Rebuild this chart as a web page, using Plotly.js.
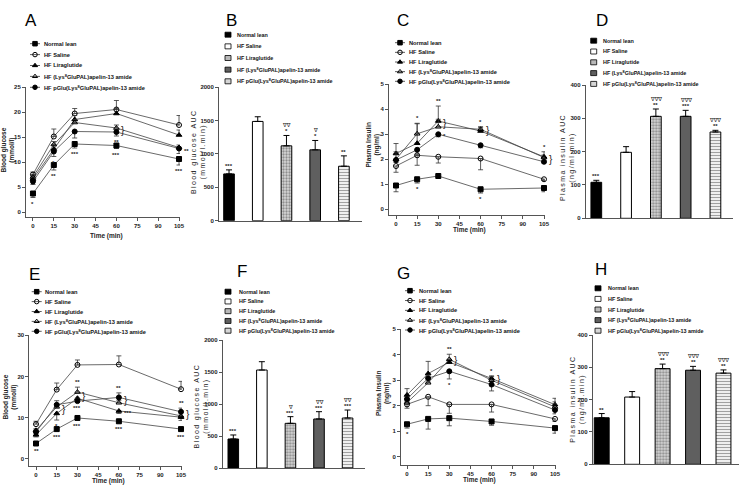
<!DOCTYPE html>
<html><head><meta charset="utf-8">
<script src="https://cdn.plot.ly/plotly-3.0.1.min.js"></script>
<style>html,body{margin:0;padding:0;background:#fff}</style>
</head><body><div id="chart" style="width:740px;height:485px"></div>
<script>
// ---------------- DATA ----------------
const TIMES = [0, 15, 30, 60, 105];
const TIME_TICKS = [0, 15, 30, 45, 60, 75, 90, 105];
const GROUPS = ['Normal lean', 'HF Saline', 'HF Liraglutide',
  'HF (Lys<sup>8</sup>GluPAL)apelin-13 amide', 'HF pGlu(Lys<sup>8</sup>GluPAL)apelin-13 amide'];

// A: blood glucose (mmol/l) after glucose challenge
const A_NL   = [3.7, 9.4, 13.6, 13.3, 10.6];
const A_SAL  = [7.5, 15.1, 19.7, 20.5, 17.4];
const A_LIRA = [6.6, 12.6, 18.5, 19.7, 15.4];
const A_LYS  = [7.0, 13.5, 17.9, 16.8, 12.9];
const A_PGLU = [6.1, 12.1, 16.1, 16.0, 12.7];
// error bars: positive = drawn upward, negative = drawn downward
const A_NL_ERR   = [-0.8, -1.0, -0.8, -0.6, -1.2];
const A_SAL_ERR  = [0.5, 1.5, 1.0, 1.8, 1.9];
const A_LIRA_ERR = [0.4, 0.8, 0.8, 1.0, 1.0];
const A_LYS_ERR  = [0.3, 0.6, 0.6, 0.6, 0.5];
const A_PGLU_ERR = [-0.6, -1.0, -1.3, -0.8, -1.0];
const A_SIG = [[0,0,'*','b'],[0,1,'**','b'],[0,2,'***','b'],[0,3,'***','b'],[0,4,'***','b'],
  [4,1,'*','b'],[4,3,'**','b'],[4,4,'**','r']];
const A_BRACE = [[3,4,3]];

// B: blood glucose AUC (mmol/l.min)
const B_AUC = [700, 1485, 1120, 1060, 815];
const B_ERR = [60, 70, 155, 140, 155];
const B_STAR = ['***', '', '*', '*', '**'];
const B_NABLA = ['', '', '∇∇', '∇', ''];

// C: plasma insulin (ng/ml)
const C_NL   = [0.95, 1.2, 1.33, 0.8, 0.85];
const C_SAL  = [1.73, 2.16, 2.1, 2.03, 1.2];
const C_LIRA = [2.23, 2.64, 3.53, 3.13, 2.1];
const C_LYS  = [2.0, 3.02, 3.3, 3.2, 2.07];
const C_PGLU = [1.97, 2.38, 3.0, 2.56, 1.9];
const C_NL_ERR   = [-0.25, -0.15, -0.05, -0.15, -0.15];
const C_SAL_ERR  = [-0.25, -0.4, -0.25, -0.45, -0.05];
const C_LIRA_ERR = [0.4, 0.8, 0.6, 0.15, 0.2];
const C_LYS_ERR  = [0.3, 0.4, 0.3, 0.1, 0.1];
const C_PGLU_ERR = [-0.1, -0.2, -0.1, -0.1, -0.05];
const C_SIG = [[0,1,'*','b'],[0,3,'*','b'],[2,1,'*','a'],[2,2,'**','a'],[2,3,'*','a'],[2,4,'*','a'],[4,2,'*','r']];
const C_BRACE = [[2,3,2],[3,2,3],[2,4,4]];

// D: plasma insulin AUC (ng/ml.min)
const D_AUC = [108, 198, 306, 306, 259];
const D_ERR = [6, 17, 22, 18, 5];
const D_STAR = ['***', '', '**', '***', '**'];
const D_NABLA = ['', '', '∇∇∇', '∇∇∇', '∇∇∇'];

// E: blood glucose (mmol/l)
const E_NL   = [3.7, 7.2, 9.9, 9.1, 7.2];
const E_SAL  = [8.4, 16.8, 22.8, 22.9, 16.9];
const E_LIRA = [5.8, 11.0, 14.7, 11.6, 10.1];
const E_LYS  = [6.9, 12.6, 16.2, 13.6, 10.4];
const E_PGLU = [6.5, 13.1, 14.0, 14.9, 11.4];
const E_NL_ERR   = [-0.4, -0.4, -0.4, -0.4, -0.4];
const E_SAL_ERR  = [0.7, 1.6, 1.2, 2.1, 1.9];
const E_LIRA_ERR = [-0.5, -1.6, -0.8, -0.6, -0.8];
const E_LYS_ERR  = [0.4, 0.8, 1.2, 0.6, 0.5];
const E_PGLU_ERR = [0.5, 1.0, 0.6, 1.1, 0.9];
const E_SIG = [[0,0,'**','b'],[0,1,'***','b'],[0,2,'***','b'],[0,3,'***','b'],[0,4,'***','b'],
  [2,1,'*','b'],[2,2,'***','b'],[2,3,'***','r'],[3,2,'**','a'],[4,3,'**','a'],[4,4,'**','a']];
const E_BRACE = [[4,2,1],[3,4,2],[4,3,3],[4,2,4]];

// F: blood glucose AUC (mmol/l.min)
const F_AUC = [453, 1531, 698, 766, 781];
const F_ERR = [63, 130, 104, 114, 125];
const F_STAR = ['***', '', '***', '***', '***'];
const F_NABLA = ['', '', '∇', '∇∇', '∇∇'];

// G: plasma insulin (ng/ml)
const G_NL   = [1.27, 1.48, 1.51, 1.38, 1.12];
const G_SAL  = [2.05, 2.35, 2.05, 2.05, 1.48];
const G_LIRA = [2.42, 3.26, 3.71, 3.07, 2.04];
const G_LYS  = [2.12, 2.9, 3.82, 3.0, 1.95];
const G_PGLU = [2.26, 3.08, 3.35, 2.83, 1.83];
const G_NL_ERR   = [-0.15, -0.4, -0.3, -0.15, -0.2];
const G_SAL_ERR  = [-0.15, -0.35, -0.35, -0.3, -0.1];
const G_LIRA_ERR = [0.25, 0.48, 0.1, 0.1, 0.25];
const G_LYS_ERR  = [0.1, 0.15, 0.2, 0.15, 0.2];
const G_PGLU_ERR = [-0.1, -0.15, -0.3, -0.25, -0.15];
const G_SIG = [[0,0,'*','b'],[3,2,'**','a'],[4,2,'*','b'],[2,3,'*','a']];
const G_BRACE = [[3,2,2],[2,3,3]];

// H: plasma insulin AUC (ng/ml.min)
const H_AUC = [144, 208, 296, 291, 282];
const H_ERR = [13, 17, 14, 12, 10];
const H_STAR = ['**', '', '**', '**', '**'];
const H_NABLA = ['', '', '∇∇∇', '∇∇∇', '∇∇∇'];

// ---------------- STYLE / LAYOUT ----------------
const W = 740, H = 485;
const FAM = '"Liberation Sans Narrow", "Liberation Sans", Arial, sans-serif';
const FAM_REG = '"Liberation Sans", Arial, sans-serif';
const FAM_SYM = '"DejaVu Sans", sans-serif';
const SYMBOLS = ['square', 'circle-open', 'triangle-up', 'triangle-up-open', 'circle'];
const BAR_COLORS = ['#000000', '#ffffff', '#d6d6d6', '#5f5f5f', '#ffffff'];
const BAR_PATTERN = ['', '', '.', '', '-'];
const BAR_FG = ['#000', '#000', '#808080', '#000', '#8c8c8c'];

const px2x = v => v / W;
const px2y = v => 1 - v / H;

const LINE_PANELS = [
  {n: 1, letter: 'A', lp: [23, 9], series: [A_NL, A_SAL, A_LIRA, A_LYS, A_PGLU],
   err: [A_NL_ERR, A_SAL_ERR, A_LIRA_ERR, A_LYS_ERR, A_PGLU_ERR], sig: A_SIG, brace: A_BRACE,
   xd: [26, 180], yd: [87, 217], xr: [-5, 105.7], yr: [-1, 25], dt: 5,
   ytitle: 'Blood glucose<br>(mmol/l)', yt: [7.5, 150], xt: [106, 236],
   leg: {kx: 35, tx: 41.7, y0: 43.7, dy: 10.9}},
  {n: 3, letter: 'C', lp: [395, 9], series: [C_NL, C_SAL, C_LIRA, C_LYS, C_PGLU],
   err: [C_NL_ERR, C_SAL_ERR, C_LIRA_ERR, C_LYS_ERR, C_PGLU_ERR], sig: C_SIG, brace: C_BRACE,
   xd: [389, 545], yd: [84.3, 215], xr: [-4.97, 105.7], yr: [-0.23, 5], dt: 1,
   ytitle: 'Plasma Insulin<br>(ng/ml)', yt: [372.5, 145], xt: [470, 230],
   leg: {kx: 400, tx: 406.7, y0: 42.7, dy: 9.65}},
  {n: 5, letter: 'E', lp: [26.7, 262.7], series: [E_NL, E_SAL, E_LIRA, E_LYS, E_PGLU],
   err: [E_NL_ERR, E_SAL_ERR, E_LIRA_ERR, E_LYS_ERR, E_PGLU_ERR], sig: E_SIG, brace: E_BRACE,
   xd: [29.3, 182], yd: [335.3, 465.7], xr: [-4.85, 105.7], yr: [-1.7, 30], dt: 10,
   ytitle: 'Blood glucose<br>(mmol/l)', yt: [9.5, 397], xt: [108, 480.5],
   leg: {kx: 36.7, tx: 43.3, y0: 291.7, dy: 9.9}},
  {n: 7, letter: 'G', lp: [394.5, 261.5], series: [G_NL, G_SAL, G_LIRA, G_LYS, G_PGLU],
   err: [G_NL_ERR, G_SAL_ERR, G_LIRA_ERR, G_LYS_ERR, G_PGLU_ERR], sig: G_SIG, brace: G_BRACE,
   xd: [401, 556], yd: [329.3, 465], xr: [-4.26, 105.7], yr: [-0.33, 5], dt: 1,
   ytitle: 'Plasma Insulin<br>(ng/ml)', yt: [383, 393], xt: [479, 479.5],
   leg: {kx: 410, tx: 416.7, y0: 290.7, dy: 9.83}}
];

const BAR_PANELS = [
  {n: 2, letter: 'B', lp: [224, 9], vals: B_AUC, err: B_ERR, star: B_STAR, nabla: B_NABLA,
   xd: [219, 362], yd: [87, 220.7], xr: [-0.349, 4.63], yr: [0, 2000], dt: 500, bw: 0.37,
   ytitle: 'Blood glucose AUC<br>(mmol/l.min)', yt: [198, 153],
   leg: {kx: 228, tx: 235, y0: 34.7, dy: 11.65}},
  {n: 4, letter: 'D', lp: [594, 9], vals: D_AUC, err: D_ERR, star: D_STAR, nabla: D_NABLA,
   xd: [585.7, 733], yd: [85, 218.3], xr: [-0.356, 4.59], yr: [0, 400], dt: 100, bw: 0.36,
   ytitle: 'Plasma insulin AUC<br>(ng/ml.min)', yt: [568, 158],
   leg: {kx: 593.7, tx: 600.7, y0: 40.7, dy: 10.8}},
  {n: 6, letter: 'F', lp: [235, 259.5], vals: F_AUC, err: F_ERR, star: F_STAR, nabla: F_NABLA,
   xd: [222.7, 365], yd: [340, 468], xr: [-0.371, 4.61], yr: [0, 2000], dt: 500, bw: 0.37,
   ytitle: 'Blood glucose AUC<br>(mmol/l.min)', yt: [201.7, 406.7],
   leg: {kx: 228, tx: 237.3, y0: 291.7, dy: 9.75}},
  {n: 8, letter: 'H', lp: [593, 257.5], vals: H_AUC, err: H_ERR, star: H_STAR, nabla: H_NABLA,
   xd: [592.7, 739], yd: [335, 464.3], xr: [-0.296, 4.51], yr: [0, 400], dt: 100, bw: 0.49,
   ytitle: 'Plasma insulin AUC<br>(ng/ml.min)', yt: [576.7, 400],
   leg: {kx: 598, tx: 606, y0: 288.3, dy: 10.6}}
];

const traces = [];
const annotations = [];
const layout = {
  width: W, height: H, margin: {l: 0, r: 0, t: 0, b: 0},
  paper_bgcolor: '#ffffff', plot_bgcolor: 'rgba(0,0,0,0)',
  showlegend: false, barmode: 'overlay',
  font: {family: FAM, size: 6, color: '#000'},
  annotations: annotations
};

function axisBase(extra) {
  return Object.assign({
    showline: true, linecolor: '#555', linewidth: 1, showgrid: false, zeroline: false,
    ticks: 'outside', ticklen: 3, tickwidth: 1, tickcolor: '#555',
    tickfont: {family: FAM, size: 6, weight: 700, color: '#222'}, fixedrange: true
  }, extra);
}

function spaced(s) {
  // letter-spaced axis title (thin spaces between characters)
  return s.split('<br>').map(l => Array.from(l).join('\u2009')).join('<br>');
}

function addLetter(p) {
  annotations.push({xref: 'paper', yref: 'paper', x: px2x(p.lp[0]), y: px2y(p.lp[1]),
    xanchor: 'left', yanchor: 'top', showarrow: false, text: p.letter,
    font: {family: FAM_REG, size: 17, color: '#000'}});
}

function addYTitle(p, bar) {
  annotations.push({xref: 'paper', yref: 'paper', x: px2x(p.yt[0]), y: px2y(p.yt[1]),
    xanchor: 'center', yanchor: 'middle', showarrow: false, textangle: -90,
    text: bar ? spaced(p.ytitle) : p.ytitle,
    font: bar ? {family: FAM_REG, size: 7, color: '#222'} : {family: FAM, size: 6.5, weight: 700, color: '#222'}});
}

function addLegendText(p, small) {
  GROUPS.forEach((g, i) => {
    annotations.push({xref: 'paper', yref: 'paper', x: px2x(p.leg.tx), y: px2y(p.leg.y0 + i * p.leg.dy),
      xanchor: 'left', yanchor: 'middle', showarrow: false, text: g,
      font: {family: FAM, size: small ? 5.4 : 5.7, weight: 700, color: '#111'}});
  });
}

// ---- line panels ----
LINE_PANELS.forEach(p => {
  const xa = 'x' + p.n, ya = 'y' + p.n;
  layout['xaxis' + p.n] = axisBase({domain: [px2x(p.xd[0]), px2x(p.xd[1])], range: p.xr,
    anchor: ya, tickvals: TIME_TICKS});
  layout['yaxis' + p.n] = axisBase({domain: [px2y(p.yd[1]), px2y(p.yd[0])], range: p.yr,
    anchor: xa, dtick: p.dt, tick0: 0});
  p.series.forEach((s, i) => {
    const e = p.err[i];
    traces.push({type: 'scatter', mode: 'lines+markers', x: TIMES, y: s, xaxis: xa, yaxis: ya,
      name: GROUPS[i], cliponaxis: false,
      line: {color: '#444', width: 0.8},
      marker: {symbol: SYMBOLS[i], size: 5, color: '#000', line: {color: '#000', width: 1}},
      error_y: {type: 'data', symmetric: false, array: e.map(v => v > 0 ? v : 0),
        arrayminus: e.map(v => v < 0 ? -v : 0), color: '#333', thickness: 0.8, width: 2.5}});
  });
  // significance labels
  p.sig.forEach(([si, ti, txt, pos]) => {
    const v = p.series[si][ti], e = p.err[si][ti];
    const a = {xref: xa, yref: ya, x: TIMES[ti], showarrow: false, text: txt,
      font: {family: FAM, size: 6, weight: 700, color: '#222'}};
    if (pos === 'b') { a.y = v - (e < 0 ? -e : 0); a.yanchor = 'top'; a.yshift = -1; }
    else if (pos === 'a') { a.y = v + (e > 0 ? e : 0); a.yanchor = 'bottom'; a.yshift = 0; }
    else { a.y = v; a.xanchor = 'left'; a.xshift = 3; a.yanchor = 'middle'; a.yshift = -2; }
    annotations.push(a);
  });
  p.brace.forEach(([s1, s2, ti]) => {
    annotations.push({xref: xa, yref: ya, x: TIMES[ti], y: (p.series[s1][ti] + p.series[s2][ti]) / 2,
      xanchor: 'left', yanchor: 'middle', xshift: 3, showarrow: false, text: '}',
      font: {family: FAM_REG, size: 10, color: '#222'}});
  });
  annotations.push({xref: 'paper', yref: 'paper', x: px2x(p.xt[0]), y: px2y(p.xt[1]),
    xanchor: 'center', yanchor: 'middle', showarrow: false, text: 'Time (min)',
    font: {family: FAM, size: 6.5, weight: 700, color: '#222'}});
  addLetter(p); addYTitle(p, false); addLegendText(p, false);
});

// ---- bar panels ----
BAR_PANELS.forEach(p => {
  const xa = 'x' + p.n, ya = 'y' + p.n;
  layout['xaxis' + p.n] = axisBase({domain: [px2x(p.xd[0]), px2x(p.xd[1])], range: p.xr,
    anchor: ya, type: 'category', ticks: '', showticklabels: false});
  layout['yaxis' + p.n] = axisBase({domain: [px2y(p.yd[1]), px2y(p.yd[0])], range: p.yr,
    anchor: xa, dtick: p.dt, tick0: 0});
  traces.push({type: 'bar', x: GROUPS, y: p.vals, xaxis: xa, yaxis: ya, width: p.bw, cliponaxis: false,
    marker: {color: BAR_COLORS, line: {color: '#000', width: 1},
      pattern: {shape: BAR_PATTERN, fgcolor: BAR_FG, fillmode: 'overlay', size: 3, solidity: 0.45}},
    error_y: {type: 'data', symmetric: false, array: p.err, arrayminus: p.err.map(() => 0),
      color: '#000', thickness: 1, width: 3}});
  p.vals.forEach((v, i) => {
    if (p.star[i]) {
      annotations.push({xref: xa, yref: ya, x: GROUPS[i], y: v + p.err[i], yanchor: 'bottom', yshift: -1,
        showarrow: false, text: p.star[i], font: {family: FAM, size: 6, weight: 700, color: '#222'}});
    }
    if (p.nabla[i]) {
      annotations.push({xref: xa, yref: ya, x: GROUPS[i], y: v + p.err[i], yanchor: 'bottom', yshift: 5,
        showarrow: false, text: p.nabla[i], opacity: 0.99, textangle: 0.01,
        font: {family: FAM_SYM, size: 5.5, color: '#111'}});
    }
  });
  addLetter(p); addYTitle(p, true); addLegendText(p, true);
});

// ---- legend keys drawn on a hidden full-page pixel axis ----
layout.xaxis9 = {domain: [0, 1], range: [0, W], visible: false, fixedrange: true, anchor: 'y9'};
layout.yaxis9 = {domain: [0, 1], range: [H, 0], visible: false, fixedrange: true, anchor: 'x9'};
LINE_PANELS.forEach(p => {
  const lx = [], ly = [], mx = [], my = [];
  GROUPS.forEach((g, i) => {
    const yc = p.leg.y0 + i * p.leg.dy;
    lx.push(p.leg.kx - 5, p.leg.kx + 5, null); ly.push(yc, yc, null);
    mx.push(p.leg.kx); my.push(yc);
  });
  traces.push({type: 'scatter', mode: 'lines', x: lx, y: ly, xaxis: 'x9', yaxis: 'y9',
    line: {color: '#333', width: 0.8}, hoverinfo: 'skip'});
  traces.push({type: 'scatter', mode: 'markers', x: mx, y: my, xaxis: 'x9', yaxis: 'y9',
    marker: {symbol: SYMBOLS, size: 4.5, color: '#000', line: {color: '#000', width: 1}}, hoverinfo: 'skip'});
});
BAR_PANELS.forEach(p => {
  const bh = 5;
  traces.push({type: 'bar', x: GROUPS.map(() => p.leg.kx), y: GROUPS.map(() => bh),
    base: GROUPS.map((g, i) => p.leg.y0 + i * p.leg.dy - bh / 2), width: 6,
    xaxis: 'x9', yaxis: 'y9', hoverinfo: 'skip',
    marker: {color: BAR_COLORS, line: {color: '#000', width: 0.8},
      pattern: {shape: BAR_PATTERN, fgcolor: BAR_FG, fillmode: 'overlay', size: 2, solidity: 0.45}}});
});

Plotly.newPlot('chart', traces, layout, {staticPlot: true, displayModeBar: false});
</script></body></html>
